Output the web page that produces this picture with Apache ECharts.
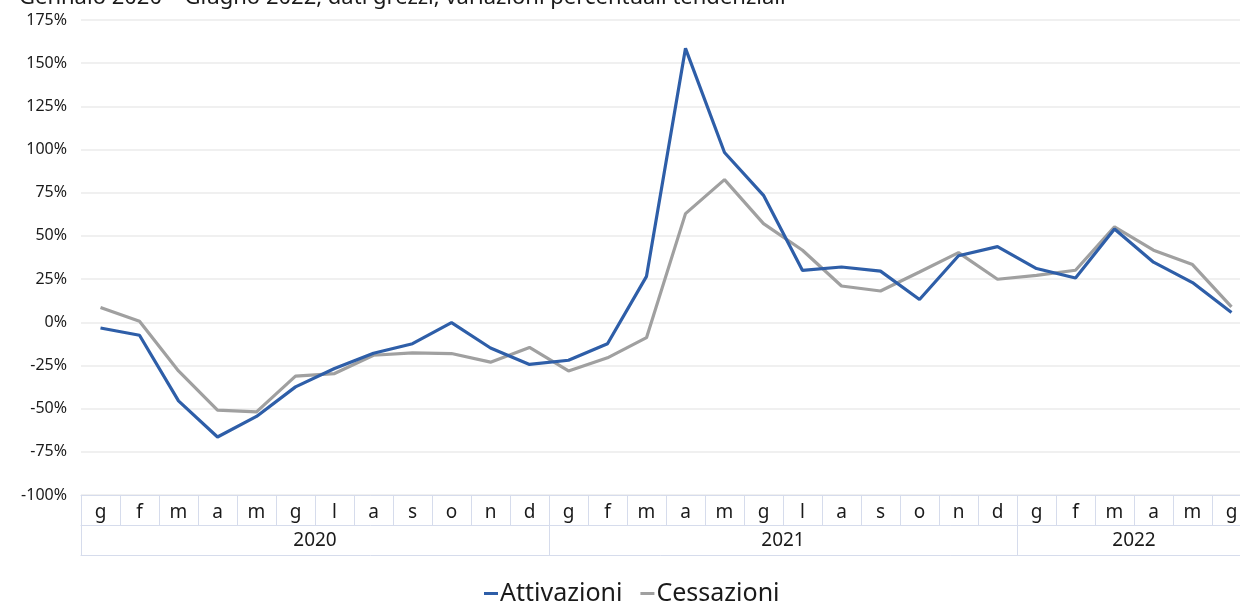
<!DOCTYPE html>
<html>
<head>
<meta charset="utf-8">
<script src="https://cdn.jsdelivr.net/npm/echarts@6/dist/echarts.min.js"></script>
<style>html,body{margin:0;padding:0;background:#fff;}#c{width:1240px;height:603px;}</style>
</head>
<body>
<div id="c"></div>
<script>
const months = ['g','f','m','a','m','g','l','a','s','o','n','d','g','f','m','a','m','g','l','a','s','o','n','d','g','f','m','a','m','g'];
const yearLabels = {5:'2020', 17:'2021', 26:'2022'};
const yearStarts = [0, 12, 24];
const attivazioni = [-3.3,-7.5,-45.5,-66.4,-54.5,-37.4,-26.8,-17.9,-12.4,-0.2,-14.9,-24.4,-22,-12.4,26.6,158.6,98.3,73.5,30,32,29.6,13.2,38.5,43.8,31.1,25.6,54,34.8,23,5.7];
const cessazioni = [8.5,0.6,-28.2,-50.9,-51.9,-31.2,-29.7,-19.1,-17.7,-18.1,-23.1,-14.6,-28.2,-20.6,-8.9,62.9,82.6,57.1,41.7,21,18.1,29.1,40.3,24.9,27.2,30.1,55.2,41.7,33.4,8.9];
const yTicks = {min:-100, max:175, interval:25};

const FONT = 'Noto Sans';
const boxColor = '#d6dcec';
const chart = echarts.init(document.getElementById('c'), null, {renderer:'canvas'});
chart.setOption({
  backgroundColor:'#fff',
  animation:false,
  textStyle:{fontFamily:FONT},
  title:{
    text:'Gennaio 2020 \u2013 Giugno 2022, dati grezzi, variazioni percentuali tendenziali',
    left:14, top:-18,
    textStyle:{fontFamily:FONT, fontSize:22, fontWeight:'normal', color:'#1a1a1a'}
  },
  legend:{
    bottom:-8, left:479,
    icon:'rect', itemWidth:14, itemHeight:3, itemGap:18,
    textStyle:{fontFamily:FONT, fontSize:25, color:'#1a1a1a', padding:[0,0,0,-3]},
    data:['Attivazioni','Cessazioni']
  },
  grid:{left:81, width:1170, top:20, bottom:108, containLabel:false, outerBoundsMode:'none'},
  xAxis:[
    {
      type:'category', data:months, position:'bottom', boundaryGap:true,
      axisLine:{show:true, onZero:false, lineStyle:{color:boxColor, width:1}},
      axisTick:{show:true, interval:0, length:30, lineStyle:{color:boxColor}},
      axisLabel:{interval:0, margin:8, fontSize:19, color:'#1a1a1a', fontFamily:FONT},
      splitLine:{show:false}
    },
    {
      type:'category', data:months, position:'bottom', offset:30, boundaryGap:true,
      axisLine:{show:true, onZero:false, lineStyle:{color:boxColor, width:1}},
      axisTick:{show:true, length:30, lineStyle:{color:boxColor},
        interval:function(i){return yearStarts.indexOf(i) >= 0;}},
      axisLabel:{interval:0, margin:6, fontSize:19, color:'#1a1a1a', fontFamily:FONT,
        padding:[0,0,0,39],
        formatter:function(v,i){return yearLabels[i] || '';}},
      splitLine:{show:false}
    },
    {
      type:'category', data:months, position:'bottom', offset:60, boundaryGap:true,
      axisLine:{show:true, onZero:false, lineStyle:{color:boxColor, width:1}},
      axisTick:{show:false}, axisLabel:{show:false}, splitLine:{show:false}
    }
  ],
  yAxis:{
    type:'value', min:yTicks.min, max:yTicks.max, interval:yTicks.interval,
    axisLine:{show:false}, axisTick:{show:false},
    axisLabel:{formatter:'{value}%', fontSize:16, color:'#1a1a1a', margin:14, fontFamily:FONT},
    splitLine:{show:true, lineStyle:{color:'#ebebeb', width:1.5}}
  },
  series:[
    {name:'Attivazioni', type:'line', data:attivazioni, xAxisIndex:0, symbol:'none',
     lineStyle:{color:'#2e5ea8', width:3.2}, itemStyle:{color:'#2e5ea8'}, z:3},
    {name:'Cessazioni', type:'line', data:cessazioni, xAxisIndex:0, symbol:'none',
     lineStyle:{color:'#a0a0a0', width:3.2}, itemStyle:{color:'#a0a0a0'}, z:2}
  ]
});
</script>
</body>
</html>
